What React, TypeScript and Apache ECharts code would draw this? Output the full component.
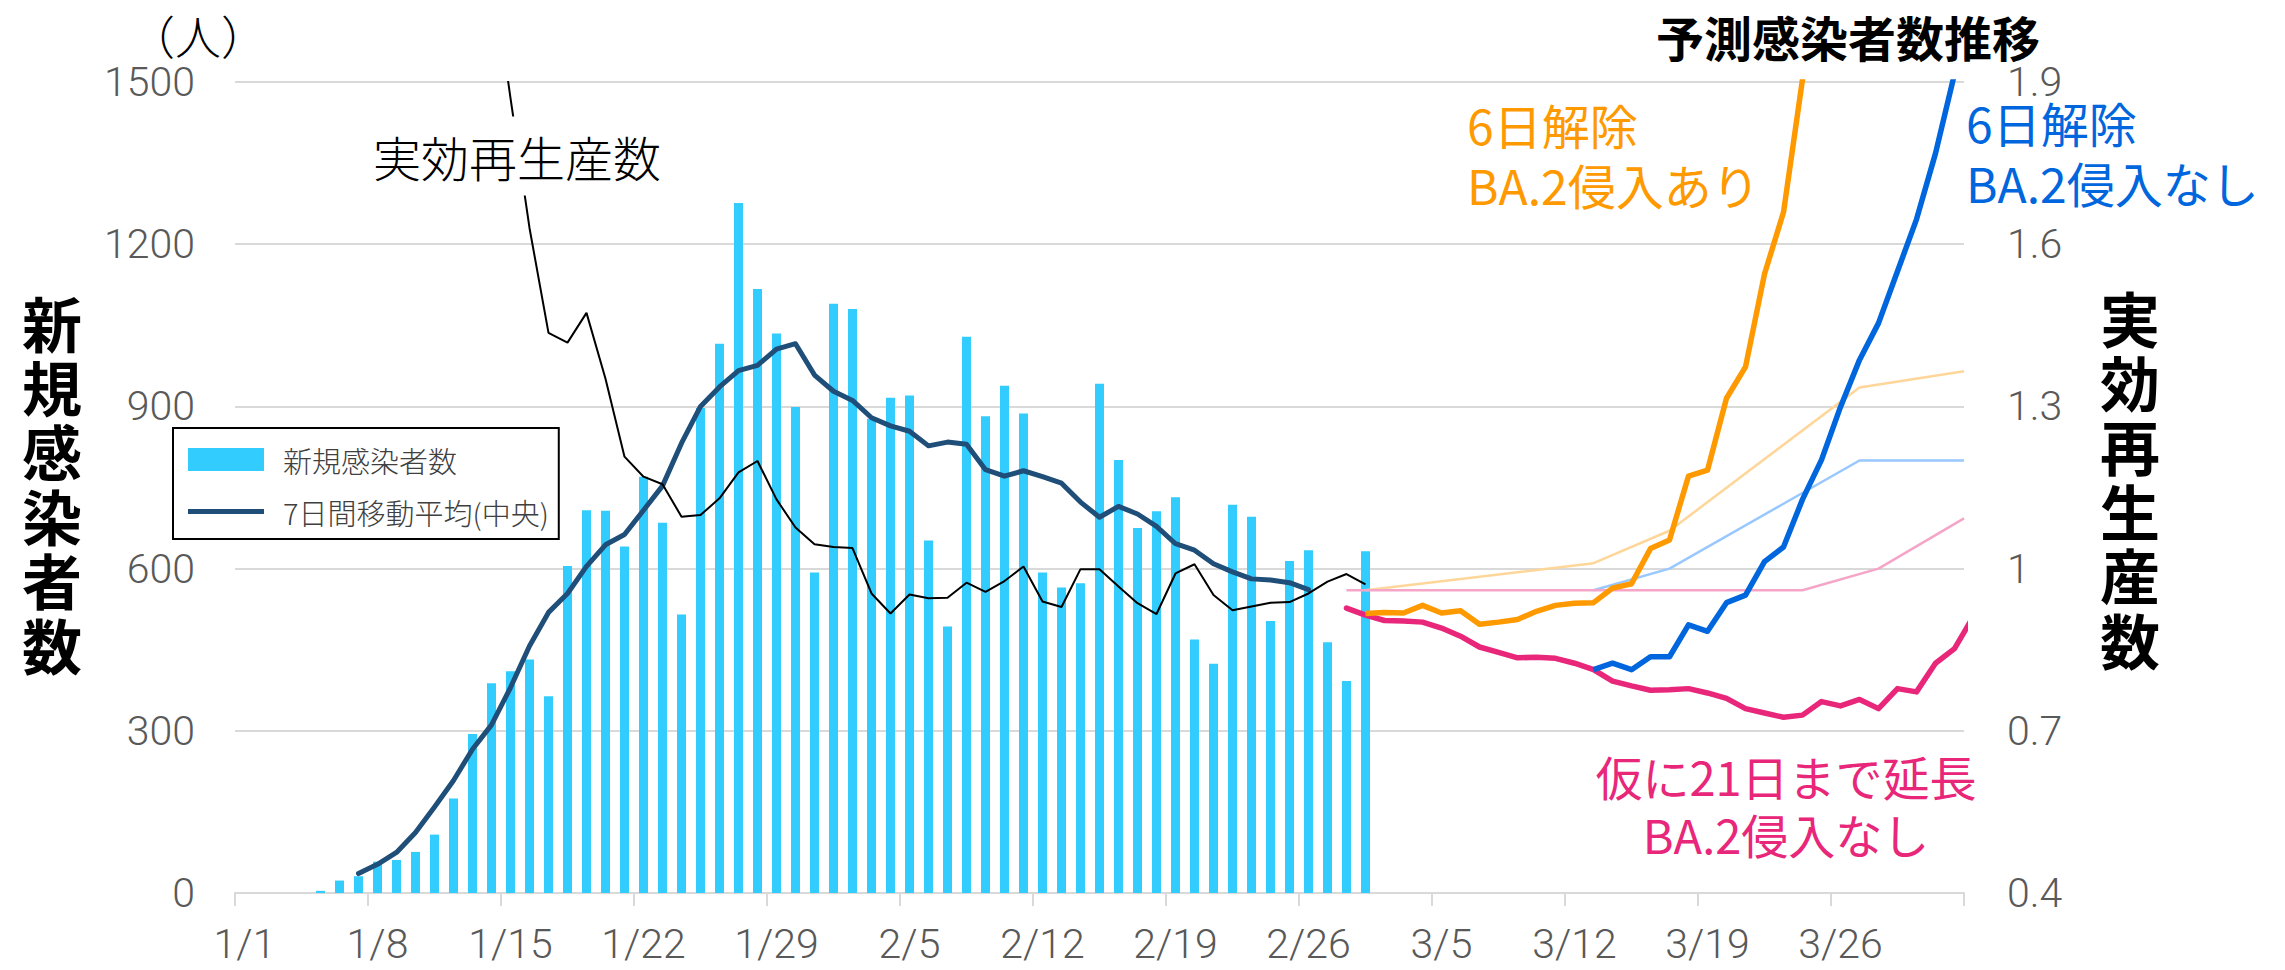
import React, { useEffect, useRef } from 'react';
import * as echarts from 'echarts';

const W = 2285;
const H = 970;

// ---- categories: 1/1 .. 4/1 (one per day) ----
const MONTH_LENGTHS: [number, number][] = [[1, 31], [2, 28], [3, 31], [4, 1]];
const dates: string[] = [];
for (const [m, n] of MONTH_LENGTHS) for (let d = 1; d <= n; d++) dates.push(`${m}/${d}`);

// ---- 新規感染者数 (index 0 = 1/1) ----
const newCases: (number | null)[] = [
  null, null, null, null, 4, 23, 31, 58, 61, 76,
  108, 175, 294, 388, 410, 432, 364, 605, 708, 707,
  641, 770, 685, 515, 897, 1016, 1276, 1117, 1035, 899,
  593, 1090, 1080, 877, 916, 920, 652, 493, 1029, 882,
  938, 887, 593, 565, 573, 942, 801, 675, 706, 732,
  469, 424, 718, 696, 503, 614, 634, 464, 392, 632,
];

// ---- 7日間移動平均(中央), from 1/7 ----
const avgStart = 6;
const movingAvg = [
  36, 53, 75, 112, 159, 208, 266, 311, 380, 457,
  519, 554, 604, 644, 663, 708, 753, 832, 900, 936,
  966, 976, 1006, 1016, 958, 928, 911, 879, 864, 854,
  827, 834, 830, 783, 771, 781, 770, 758, 723, 695,
  715, 701, 678, 646, 634, 609, 594, 581, 579, 574, 561,
];

// ---- 実効再生産数, from 1/14 ----
const rtStart = 13;
const rtValues = [
  2.12, 1.87, 1.63, 1.436, 1.418, 1.473, 1.351,
  1.207, 1.17, 1.156, 1.096, 1.099,
  1.13, 1.178, 1.199, 1.128, 1.076, 1.045, 1.04, 1.038, 0.954, 0.917,
  0.952, 0.945, 0.946, 0.974, 0.957, 0.977, 1.004, 0.939, 0.929, 0.999,
  0.999, 0.967, 0.936, 0.916, 0.991, 1.008, 0.951, 0.923, 0.93, 0.937,
  0.938, 0.954, 0.976, 0.99, 0.971,
];

// ---- 予測感染者数 ----
const ext21Start = 58; // 仮に21日まで延長 BA.2侵入なし
const ext21Cases = [
  527, 514, 504, 503, 501, 490, 475, 455, 445, 435,
  436, 434, 425, 413, 392, 383, 375, 376, 378, 370,
  360, 341, 333, 325, 329, 354, 346, 358, 341, 378,
  372, 425, 452, 512,
];
const ba2Start = 59; // 6日解除 BA.2侵入あり
const ba2Cases = [
  517, 519, 518, 532, 518, 522, 497, 501, 506, 521,
  532, 536, 537, 564, 572, 637, 653, 771, 782, 915,
  973, 1145, 1259, 1505, 1850,
];
const noBa2Start = 71; // 6日解除 BA.2侵入なし
const noBa2Cases = [
  413, 425, 413, 437, 437, 496, 484, 537, 551, 613,
  640, 728, 801, 899, 986, 1054, 1150, 1246, 1368, 1515, 1650,
];

// ---- 想定実効再生産数 (day index, Rt) ----
const rtExt21: [number, number][] = [[58, 0.96], [82, 0.96], [86, 1.0], [90.5, 1.093]];
const rtNoBa2: [number, number][] = [[71, 0.96], [75, 1.0], [85, 1.2], [90.5, 1.2]];
const rtBa2: [number, number][] = [[59, 0.96], [71, 1.01], [75, 1.07], [85, 1.335], [90.5, 1.365]];

// right axis runs 0.4 .. 1.9
const RT_MIN = 0.4;
const leftTicks = { min: 0, max: 1500, interval: 300 };

const seq = (start: number, arr: number[]) => arr.map((v, k) => [start + k + 0.5, v]);
const seqRt = (start: number, arr: number[]) => arr.map((v, k) => [start + k + 0.5, v - RT_MIN]);
const ptsRt = (arr: [number, number][]) => arr.map(([d, v]) => [d + 0.5, v - RT_MIN]);

const NUM_FONT = 'Roboto';
const CJK = "'Noto Sans CJK JP', sans-serif";

// vertical text: one element per character
const vertical = (text: string, x: number, yc: number, pitch: number, fontSize: number) => {
  const chars = text.split('');
  return chars.map((ch, k) => ({
    type: 'text', x, y: yc + (k - (chars.length - 1) / 2) * pitch, z: 100,
    style: { text: ch, fontSize, lineHeight: fontSize, fontFamily: CJK, fontWeight: 'bold', fill: '#000', align: 'center', verticalAlign: 'middle' },
  }));
};
// multi-line label: one element per line
const lines = (texts: string[], x: number, ys: number[], align: string, color: string, fontSize: number) =>
  texts.map((t, k) => ({
    type: 'text', x, y: ys[k], z: 100,
    style: { text: t, fontSize, lineHeight: fontSize, fontFamily: CJK, fontWeight: 'normal', fill: color, align, verticalAlign: 'middle' },
  }));

export default function App() {
  const ref = useRef<HTMLDivElement>(null);
  useEffect(() => {
    if (!ref.current) return;
    const chart = echarts.init(ref.current, null, { renderer: 'svg', width: W, height: H });

    const lineBase = { type: 'line', xAxisIndex: 1, symbol: 'none', showSymbol: false, clip: true };

    const option: any = {
      animation: false,
      backgroundColor: '#ffffff',
      textStyle: { fontFamily: CJK },
      grid: { left: 235, right: 321, top: 82, bottom: 77, outerBoundsMode: 'none' },
      legend: {
        orient: 'vertical',
        left: 173,
        top: 428,
        padding: [17, 10, 13, 15],
        itemWidth: 76,
        itemHeight: 23,
        itemGap: 23,
        borderColor: '#000',
        borderWidth: 2,
        backgroundColor: '#fff',
        symbolKeepAspect: true,
        textStyle: { fontSize: 29, lineHeight: 29, color: '#404040', fontFamily: CJK, fontWeight: 300, padding: [0, 0, 0, 14] },
        data: [
          { name: '新規感染者数', icon: 'rect' },
          { name: '7日間移動平均(中央)', icon: 'path://M0 0H76V5H0Z' },
        ],
        z: 50,
      },
      xAxis: [
        {
          type: 'category',
          data: dates,
          boundaryGap: true,
          axisLine: { show: true, lineStyle: { color: '#d9d9d9', width: 2 } },
          axisTick: { show: true, interval: 6, length: 13, lineStyle: { color: '#d9d9d9', width: 2 } },
          axisLabel: { interval: 6, fontSize: 41, color: '#595959', fontFamily: NUM_FONT, fontWeight: 300, margin: 30 },
          splitLine: { show: false },
        },
        { type: 'value', min: 0, max: 91, show: false },
      ],
      yAxis: [
        {
          type: 'value',
          min: leftTicks.min,
          max: leftTicks.max,
          interval: leftTicks.interval,
          axisLine: { show: false },
          axisTick: { show: false },
          axisLabel: { formatter: (v: number) => String(v), fontSize: 41, lineHeight: 36, color: '#595959', fontFamily: NUM_FONT, fontWeight: 300, margin: 40 },
          splitLine: { show: true, lineStyle: { color: '#d9d9d9', width: 2 } },
        },
        {
          type: 'value',
          position: 'right',
          min: 0,
          max: 1.5,
          interval: 0.3,
          axisLine: { show: false },
          axisTick: { show: false },
          axisLabel: { formatter: (v: number) => String(+(v + RT_MIN).toFixed(2)), fontSize: 41, lineHeight: 36, color: '#595959', fontFamily: NUM_FONT, fontWeight: 300, margin: 43 },
          splitLine: { show: false },
        },
      ],
      series: [
        { name: '新規感染者数', type: 'bar', xAxisIndex: 0, yAxisIndex: 0, data: newCases.concat(new Array(dates.length - newCases.length).fill(null)), barWidth: 9, itemStyle: { color: '#33CCFF' }, z: 1 },
        { ...lineBase, name: '想定Rt(6日解除 BA.2侵入あり)', yAxisIndex: 1, data: ptsRt(rtBa2), lineStyle: { color: '#FFD699', width: 2.5 }, z: 2 },
        { ...lineBase, name: '想定Rt(6日解除 BA.2侵入なし)', yAxisIndex: 1, data: ptsRt(rtNoBa2), lineStyle: { color: '#99C8FF', width: 2.5 }, z: 2 },
        { ...lineBase, name: '想定Rt(21日まで延長)', yAxisIndex: 1, data: ptsRt(rtExt21), lineStyle: { color: '#F5A6C8', width: 2.5 }, z: 2 },
        { ...lineBase, name: '7日間移動平均(中央)', yAxisIndex: 0, data: seq(avgStart, movingAvg), lineStyle: { color: '#1F4E79', width: 5, join: 'round', cap: 'round' }, itemStyle: { color: '#1F4E79' }, z: 3 },
        { ...lineBase, name: '実効再生産数', yAxisIndex: 1, data: seqRt(rtStart, rtValues), lineStyle: { color: '#000000', width: 2 }, z: 4 },
        { ...lineBase, name: '仮に21日まで延長 BA.2侵入なし', yAxisIndex: 0, data: seq(ext21Start, ext21Cases), lineStyle: { color: '#E8267A', width: 5.5, join: 'round', cap: 'round' }, z: 5 },
        { ...lineBase, name: '6日解除 BA.2侵入なし', yAxisIndex: 0, data: seq(noBa2Start, noBa2Cases), lineStyle: { color: '#0066DD', width: 5.5, join: 'round' }, z: 5 },
        { ...lineBase, name: '6日解除 BA.2侵入あり', yAxisIndex: 0, data: seq(ba2Start, ba2Cases), lineStyle: { color: '#FF9900', width: 5.5, join: 'round' }, z: 5 },
      ],
      graphic: [
        { type: 'text', x: 198, y: 34, z: 100, style: { text: '（人）', fontSize: 46, fontFamily: CJK, fontWeight: 300, fill: '#000', align: 'center', verticalAlign: 'middle' } },
        { type: 'text', x: 1848, y: 36, z: 100, style: { text: '予測感染者数推移', fontSize: 48, lineHeight: 48, fontFamily: CJK, fontWeight: 'bold', fill: '#000', align: 'center', verticalAlign: 'middle' } },
        ...vertical('新規感染者数', 52, 482, 64.4, 60),
        ...vertical('実効再生産数', 2130, 477, 64.4, 60),
        { type: 'text', x: 517, y: 156, z: 100, style: { text: '実効再生産数', fontSize: 48, fontFamily: CJK, fontWeight: 300, fill: '#000', backgroundColor: '#fff', padding: [14, 8, 17, 8], align: 'center', verticalAlign: 'middle' } },
        ...lines(['6日解除', 'BA.2侵入あり'], 1467, [124, 184], 'left', '#FF9900', 48),
        ...lines(['6日解除', 'BA.2侵入なし'], 1966, [122, 182], 'left', '#0066DD', 48),
        ...lines(['仮に21日まで延長', 'BA.2侵入なし'], 1786, [775, 833], 'center', '#E8267A', 47),
      ],
    };
    chart.setOption(option);
    return () => chart.dispose();
  }, []);
  return <div ref={ref} style={{ position: 'fixed', left: 0, top: 0, width: W, height: H, background: '#fff' }} />;
}
